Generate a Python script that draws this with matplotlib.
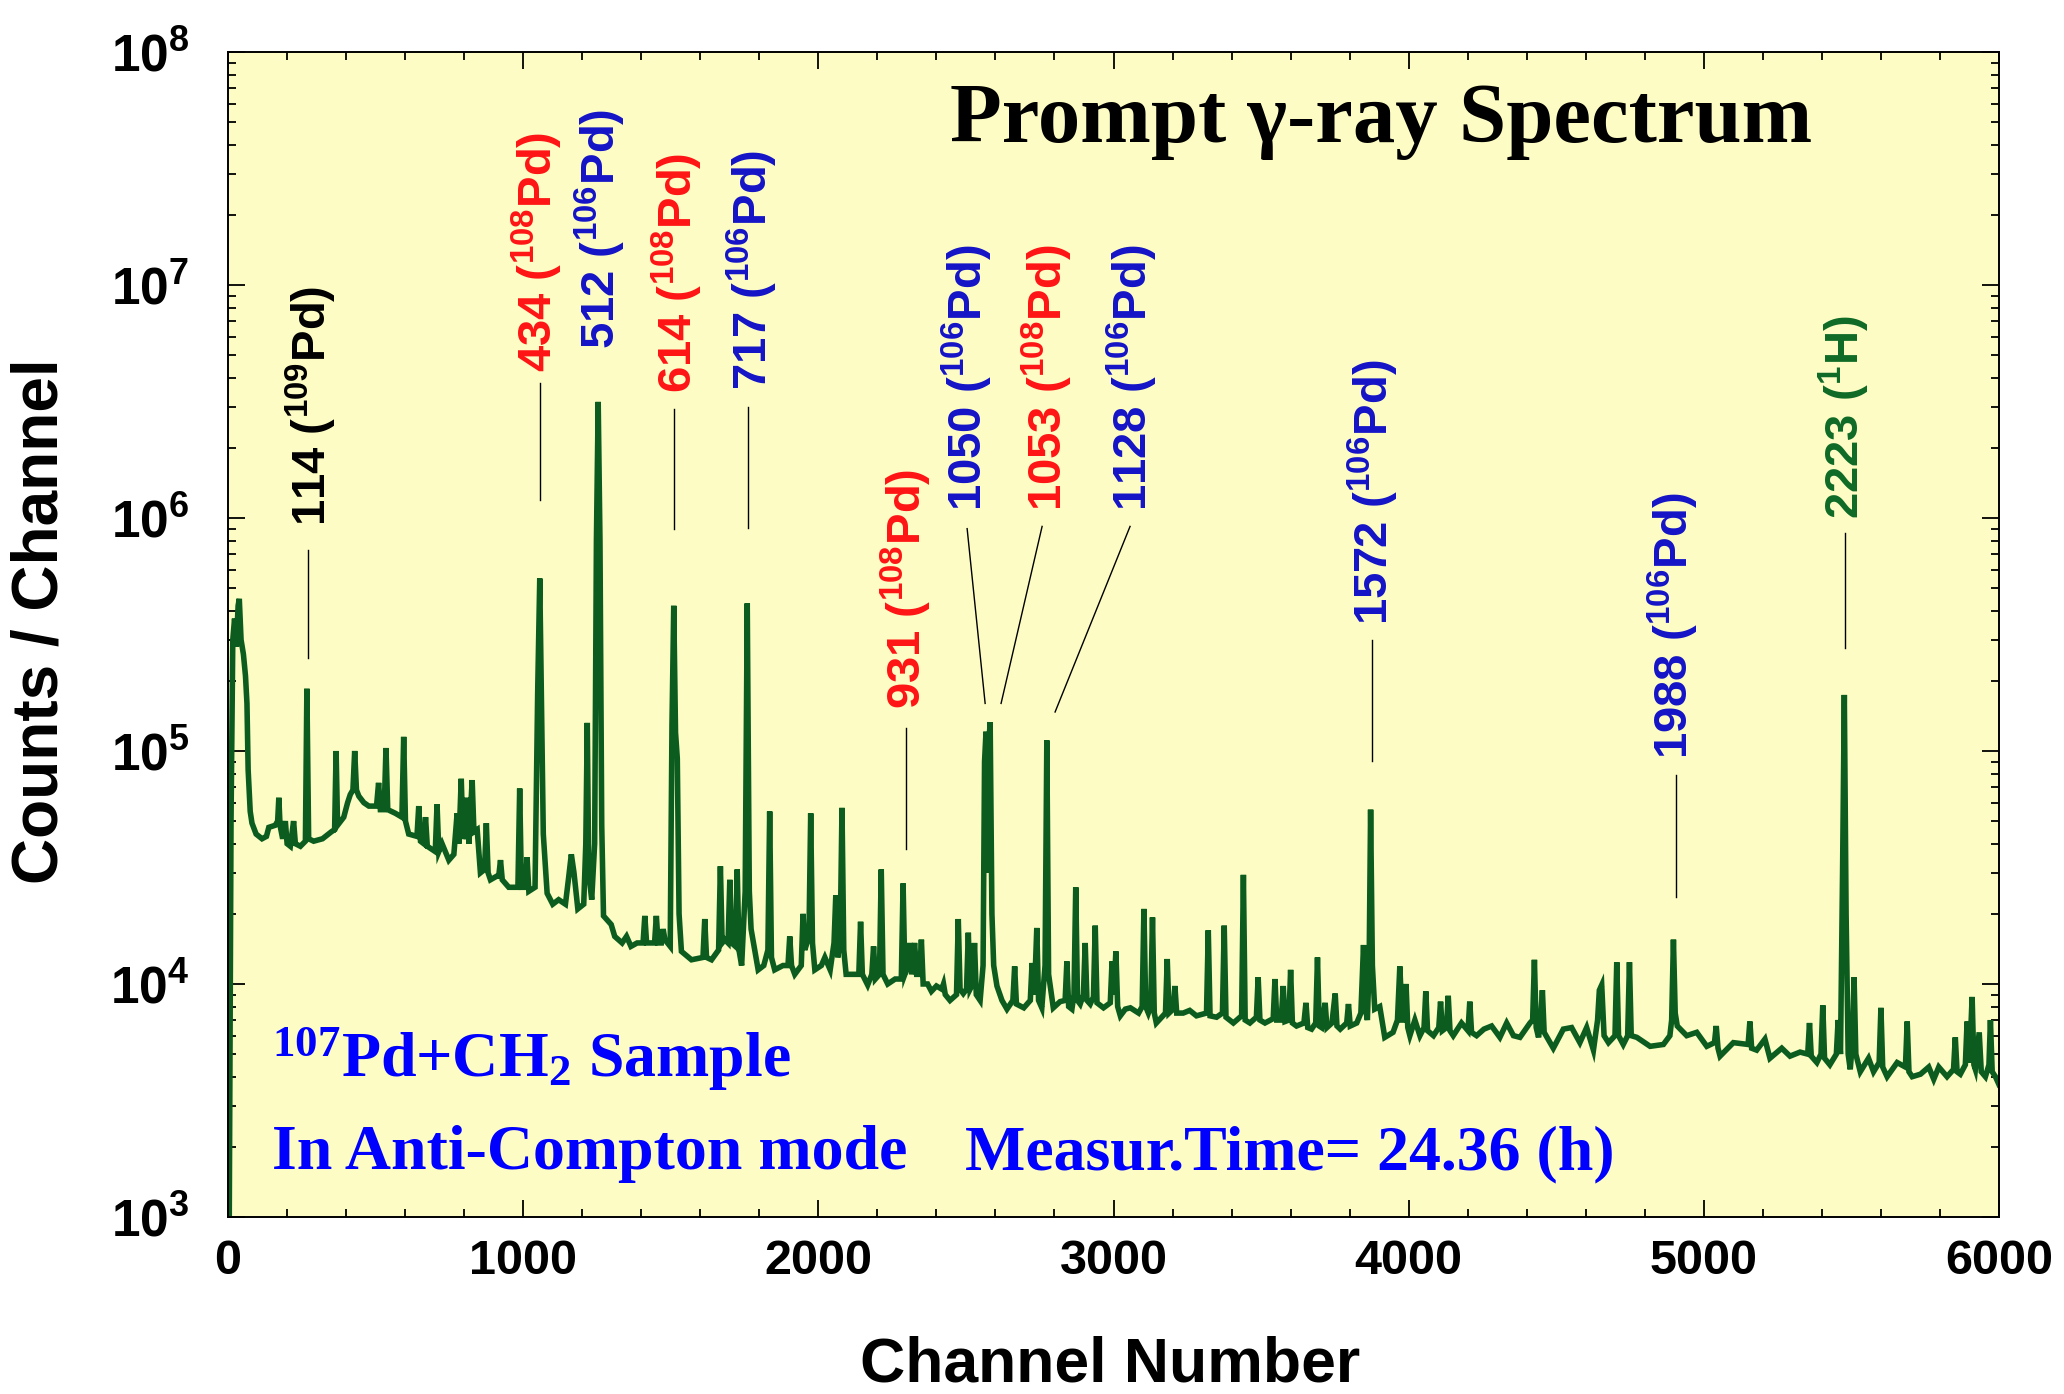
import numpy as np
import matplotlib
matplotlib.use("Agg")
from matplotlib import pyplot as plt
from matplotlib.ticker import FixedLocator, FuncFormatter, LogLocator, NullFormatter

plt.rcParams['font.family'] = ['Liberation Sans', 'DejaVu Sans']
plt.rcParams['font.weight'] = 'bold'
plt.rcParams['mathtext.fontset'] = 'custom'
plt.rcParams['mathtext.bf'] = 'Liberation Sans:bold'
plt.rcParams['mathtext.rm'] = 'Liberation Serif:bold'

# spectrum, (channel, counts / channel)
seg_low = [
    (3, 500), (10, 5.0e4), (16, 3.0e5), (22, 3.7e5), (28, 2.8e5), (34, 4.2e5), (38, 4.5e5),
    (44, 3.0e5), (52, 2.6e5), (59, 2.1e5), (64, 1.6e5), (68, 8.3e4), (75, 5.5e4), (81, 4.9e4),
    (95, 4.4e4), (115, 4.2e4), (130, 4.3e4), (138, 4.7e4), (160, 4.8e4), (168, 5.0e4),
    (172, 6.3e4), (176, 4.8e4), (185, 4.2e4), (194, 5.0e4), (200, 4.0e4), (211, 3.9e4),
    (222, 5.0e4), (228, 4.0e4), (245, 3.9e4), (262, 4.1e4), (267, 1.85e5), (273, 4.2e4),
    (290, 4.1e4), (320, 4.2e4), (350, 4.5e4), (361, 4.6e4), (366, 1.0e5), (371, 4.8e4),
    (392, 5.2e4), (405, 6.0e4), (414, 6.5e4), (423, 6.8e4), (429, 1.0e5), (435, 6.8e4),
    (443, 6.4e4), (460, 6.0e4), (477, 5.8e4), (503, 5.8e4), (510, 7.3e4), (516, 5.6e4),
    (529, 5.6e4), (535, 1.03e5), (541, 5.6e4), (567, 5.4e4), (589, 5.2e4), (595, 1.15e5),
    (601, 5.0e4), (612, 4.4e4), (640, 4.3e4), (646, 5.8e4), (652, 4.1e4), (663, 4.0e4),
    (669, 5.2e4), (675, 3.9e4), (702, 3.7e4), (708, 5.9e4), (714, 3.7e4), (725, 4.0e4),
    (748, 3.4e4), (765, 3.6e4), (776, 5.4e4), (782, 4.0e4), (790, 7.6e4), (796, 4.2e4),
    (804, 4.5e4), (810, 6.3e4), (816, 4.0e4), (827, 7.5e4), (833, 4.5e4), (844, 4.6e4),
    (855, 3.0e4), (869, 3.1e4), (875, 4.9e4), (881, 3.0e4), (889, 2.8e4), (910, 2.9e4),
    (917, 2.9e4), (923, 3.4e4), (929, 2.8e4), (951, 2.6e4), (982, 2.6e4), (988, 6.9e4),
    (994, 2.6e4), (1007, 2.6e4), (1013, 3.5e4), (1019, 2.5e4), (1040, 2.6e4), (1049, 1.8e5),
    (1056, 5.5e5), (1062, 1.5e5), (1068, 4.4e4), (1081, 2.45e4), (1100, 2.2e4), (1120, 2.3e4),
    (1143, 2.2e4), (1153, 2.8e4), (1163, 3.6e4), (1172, 3.0e4), (1185, 2.1e4),
]
seg_mid = [
    (1205, 2.2e4), (1212, 4.0e4), (1217, 1.32e5), (1222, 3.0e4), (1232, 2.3e4), (1242, 4.0e4),
    (1248, 8.0e5), (1254, 3.15e6), (1260, 8.0e5), (1266, 4.8e4), (1272, 1.96e4), (1298, 1.8e4),
    (1310, 1.6e4), (1335, 1.5e4), (1350, 1.6e4), (1365, 1.45e4), (1386, 1.5e4), (1406, 1.5e4),
    (1412, 1.96e4), (1418, 1.5e4), (1445, 1.5e4), (1451, 1.96e4), (1457, 1.5e4), (1468, 1.5e4),
    (1474, 1.72e4), (1480, 1.55e4), (1498, 1.45e4), (1504, 1.3e5), (1510, 4.2e5), (1516, 1.2e5),
    (1522, 9.3e4), (1528, 2.0e4), (1536, 1.38e4), (1570, 1.27e4), (1609, 1.3e4), (1615, 1.9e4),
    (1621, 1.3e4), (1638, 1.27e4), (1662, 1.4e4), (1668, 3.2e4), (1674, 1.5e4), (1683, 1.55e4),
    (1694, 1.5e4), (1700, 2.8e4), (1706, 1.5e4), (1719, 1.45e4), (1725, 3.1e4), (1731, 1.4e4),
    (1740, 1.2e4), (1752, 2.5e4), (1759, 4.3e5), (1766, 2.5e4), (1772, 1.72e4), (1796, 1.15e4),
    (1815, 1.2e4), (1829, 1.4e4), (1835, 5.5e4), (1841, 1.3e4), (1852, 1.15e4), (1880, 1.2e4),
    (1897, 1.2e4), (1903, 1.6e4), (1909, 1.2e4), (1920, 1.1e4), (1942, 1.2e4), (1948, 2.0e4),
    (1954, 1.4e4), (1968, 1.6e4), (1974, 5.4e4), (1980, 1.5e4), (1988, 1.15e4), (2010, 1.2e4),
    (2022, 1.3e4), (2040, 1.15e4), (2053, 1.5e4), (2059, 2.4e4), (2066, 1.3e4), (2074, 1.6e4),
    (2080, 5.7e4), (2086, 1.4e4), (2094, 1.1e4), (2120, 1.1e4), (2137, 1.1e4), (2143, 1.85e4),
    (2149, 1.1e4), (2167, 9.9e3), (2181, 1.1e4), (2187, 1.45e4), (2193, 1.05e4), (2207, 1.1e4),
    (2213, 3.1e4), (2219, 1.1e4), (2235, 1.0e4), (2260, 1.05e4), (2281, 1.05e4), (2287, 2.7e4),
    (2293, 1.1e4), (2304, 1.2e4), (2310, 1.5e4), (2316, 1.1e4), (2326, 1.5e4), (2333, 1.1e4),
    (2343, 1.1e4), (2349, 1.55e4), (2355, 1.0e4), (2370, 1.0e4), (2383, 9.3e3),
]
seg_high = [
    (2400, 9.8e3), (2418, 9.5e3), (2424, 1.0e4), (2430, 9.0e3), (2446, 8.5e3), (2468, 9.0e3),
    (2474, 1.9e4), (2480, 9.5e3), (2491, 9.1e3), (2502, 9.5e3), (2508, 1.66e4), (2514, 9.5e3),
    (2523, 1.0e4), (2529, 1.5e4), (2535, 9.0e3), (2548, 8.5e3), (2558, 1.2e4), (2563, 9.0e4),
    (2568, 1.21e5), (2574, 3.0e4), (2578, 1.1e5), (2582, 1.33e5), (2588, 2.0e4), (2594, 1.2e4),
    (2605, 9.8e3), (2622, 8.5e3), (2639, 7.8e3), (2659, 8.5e3), (2665, 1.19e4), (2671, 8.2e3),
    (2696, 7.9e3), (2718, 8.5e3), (2724, 1.23e4), (2732, 9.0e3), (2740, 1.74e4), (2746, 8.5e3),
    (2757, 7.9e3), (2768, 1.2e4), (2774, 1.11e5), (2780, 1.1e4), (2796, 7.9e3), (2819, 8.4e3),
    (2836, 8.5e3), (2842, 1.25e4), (2848, 8.0e3), (2859, 7.8e3), (2866, 9.0e3), (2872, 2.6e4),
    (2878, 8.5e3), (2887, 8.2e3), (2898, 9.0e3), (2904, 1.5e4), (2910, 8.5e3), (2921, 8.2e3),
    (2932, 8.8e3), (2938, 1.78e4), (2944, 8.3e3), (2966, 7.9e3), (2989, 8.3e3), (2995, 1.25e4),
    (3001, 9.0e3), (3008, 1.38e4), (3014, 8.0e3), (3023, 7.3e3), (3040, 7.8e3), (3057, 7.9e3),
    (3085, 7.5e3), (3097, 8.0e3), (3103, 2.1e4), (3109, 8.0e3), (3118, 7.5e3), (3126, 8.0e3),
    (3132, 1.93e4), (3138, 7.5e3), (3145, 6.8e3), (3176, 7.5e3), (3182, 1.28e4), (3188, 7.5e3),
    (3202, 7.8e3), (3208, 9.8e3), (3214, 7.5e3), (3236, 7.5e3), (3258, 7.7e3), (3281, 7.3e3),
    (3315, 7.5e3), (3321, 1.7e4), (3327, 7.3e3), (3349, 7.2e3), (3369, 7.5e3), (3375, 1.78e4),
    (3381, 7.2e3), (3406, 6.8e3), (3434, 7.3e3), (3440, 2.94e4), (3446, 7.0e3), (3462, 6.8e3),
    (3484, 7.2e3), (3490, 1.07e4), (3496, 7.0e3), (3513, 6.8e3), (3541, 7.1e3), (3547, 1.05e4),
    (3553, 7.0e3), (3568, 7.0e3), (3575, 9.8e3), (3581, 6.9e3),
]
seg_far = [
    (3594, 7.0e3), (3600, 1.15e4), (3606, 6.8e3), (3620, 6.6e3), (3645, 6.8e3), (3652, 8.3e3),
    (3658, 6.5e3), (3671, 6.4e3), (3685, 6.8e3), (3691, 1.3e4), (3697, 6.6e3), (3705, 6.5e3),
    (3717, 8.3e3), (3723, 6.5e3), (3740, 6.8e3), (3751, 9.1e3), (3757, 6.6e3), (3768, 6.4e3),
    (3790, 6.8e3), (3796, 8.2e3), (3802, 6.6e3), (3824, 6.8e3), (3838, 7.5e3), (3847, 1.47e4),
    (3853, 8.0e3), (3860, 7.0e3), (3866, 1.2e4), (3871, 5.6e4), (3877, 1.2e4), (3885, 7.8e3),
    (3902, 8.0e3), (3919, 5.9e3), (3947, 6.2e3), (3962, 7.0e3), (3970, 1.19e4), (3978, 7.0e3),
    (3985, 7.0e3), (3991, 1.0e4), (3997, 6.5e3), (4004, 6.0e3), (4021, 7.0e3), (4038, 6.0e3),
    (4052, 6.5e3), (4058, 9.3e3), (4064, 6.3e3), (4084, 6.0e3), (4102, 6.5e3), (4108, 8.4e3),
    (4114, 6.3e3), (4128, 6.5e3), (4134, 8.9e3), (4140, 6.3e3), (4151, 6.0e3), (4179, 6.8e3),
    (4201, 6.3e3), (4207, 8.4e3), (4213, 6.2e3), (4230, 6.0e3), (4255, 6.4e3), (4281, 6.6e3),
    (4309, 5.9e3), (4332, 6.8e3), (4355, 6.0e3), (4377, 5.9e3), (4411, 6.8e3), (4420, 7.0e3),
    (4426, 1.27e4), (4432, 6.5e3), (4440, 5.9e3), (4447, 7.0e3), (4453, 9.4e3), (4459, 6.2e3),
    (4490, 5.3e3), (4524, 6.4e3), (4552, 6.5e3), (4580, 5.6e3), (4603, 6.5e3), (4626, 5.2e3),
    (4640, 7.0e3), (4646, 9.4e3), (4654, 9.9e3), (4662, 6.0e3), (4677, 5.6e3), (4699, 6.0e3),
    (4705, 1.24e4), (4711, 6.0e3), (4727, 5.5e3), (4742, 6.0e3), (4748, 1.24e4), (4754, 6.0e3),
    (4773, 5.9e3),
]
seg_tail = [
    (4818, 5.4e3), (4863, 5.5e3), (4885, 6.0e3), (4891, 7.0e3), (4897, 1.55e4), (4903, 7.5e3),
    (4910, 6.6e3), (4942, 6.0e3), (4976, 6.2e3), (5010, 5.4e3), (5036, 5.6e3), (5042, 6.6e3),
    (5048, 5.3e3), (5055, 4.9e3), (5100, 5.6e3), (5150, 5.5e3), (5156, 6.9e3), (5162, 5.3e3),
    (5179, 5.2e3), (5207, 5.8e3), (5224, 4.8e3), (5264, 5.3e3), (5292, 4.9e3), (5326, 5.1e3),
    (5352, 5.0e3), (5358, 6.8e3), (5364, 4.9e3), (5383, 4.6e3), (5397, 5.0e3), (5403, 8.1e3),
    (5409, 4.8e3), (5427, 4.5e3), (5449, 5.0e3), (5455, 7.0e3), (5463, 5.0e3), (5470, 3.0e4),
    (5476, 1.74e5), (5482, 2.0e4), (5489, 5.0e3), (5496, 4.3e3), (5503, 5.5e3), (5509, 1.07e4),
    (5515, 5.0e3), (5530, 4.2e3), (5558, 4.8e3), (5575, 4.2e3), (5594, 4.6e3), (5600, 7.9e3),
    (5606, 4.4e3), (5621, 4.0e3), (5655, 4.6e3), (5683, 4.4e3), (5689, 6.9e3), (5695, 4.2e3),
    (5706, 4.0e3), (5734, 4.1e3), (5762, 4.4e3), (5779, 3.9e3), (5796, 4.4e3), (5824, 4.0e3),
    (5846, 4.3e3), (5852, 5.9e3), (5858, 4.2e3), (5869, 4.1e3), (5886, 4.5e3), (5892, 6.9e3),
    (5900, 4.6e3), (5909, 8.8e3), (5915, 4.5e3), (5920, 4.3e3), (5933, 6.2e3), (5940, 4.2e3),
    (5954, 4.0e3), (5966, 4.5e3), (5971, 7.0e3), (5977, 4.2e3), (5988, 4.0e3), (6000, 3.7e3),
]

# peak labels: energy (keV), isotope mass, element, colour
lbl_energy = ['114', '434', '512', '614', '717', '931', '1050', '1053', '1128', '1572', '1988', '2223']
lbl_mass = ['109', '108', '106', '108', '106', '108', '106', '108', '106', '106', '106', '1']
lbl_elem = ['Pd', 'Pd', 'Pd', 'Pd', 'Pd', 'Pd', 'Pd', 'Pd', 'Pd', 'Pd', 'Pd', 'H']
lbl_color = ['black', '#FF1414', '#1414C8', '#FF1414', '#1414C8', '#FF1414',
             '#1414C8', '#FF1414', '#1414C8', '#1414C8', '#1414C8', '#0E6A26']
lbl_chan = [281, 1047, 1261, 1521, 1776, 2298, 2504, 2775, 3063, 3879, 4896, 5475]
lbl_bottom = [9.2e5, 4.25e6, 5.3e6, 3.45e6, 3.55e6, 1.52e5, 1.07e6, 1.07e6, 1.07e6, 3.47e5, 9.2e4, 9.9e5]

# leader lines: (chan_top, counts_top, chan_bottom, counts_bottom)
lead_lines = [
    (271, 7.3e5, 271, 2.5e5),
    (1057, 3.8e6, 1057, 1.2e6),
    (1511, 2.95e6, 1511, 9.0e5),
    (1762, 3.0e6, 1762, 9.1e5),
    (2297, 1.25e5, 2297, 3.8e4),
    (2504, 9.0e5, 2565, 1.6e5),
    (2758, 9.2e5, 2619, 1.6e5),
    (3056, 9.2e5, 2802, 1.47e5),
    (3877, 2.98e5, 3877, 9.1e4),
    (4906, 7.9e4, 4906, 2.36e4),
    (5478, 8.6e5, 5478, 2.77e5),
]

spec = np.array(seg_low + seg_mid + seg_high + seg_far + seg_tail)

fig = plt.figure(figsize=(20.64, 13.94), dpi=100)
ax = fig.add_axes([0.1105, 0.127, 0.8580, 0.8357])
ax.set_facecolor('#FCFCC4')

ax.plot(spec[:, 0], spec[:, 1], color='#0B5C1E', linewidth=4.0, solid_joinstyle='miter')

for x0, y0, x1, y1 in lead_lines:
    ax.plot([x0, x1], [y0, y1], color='black', linewidth=1.0)

for e, m, el, c, x, y in zip(lbl_energy, lbl_mass, lbl_elem, lbl_color, lbl_chan, lbl_bottom):
    ax.text(x, y, e + ' ($\\mathbf{^{' + m + '}}$' + el + ')', rotation=90,
            ha='center', va='bottom', color=c, fontsize=34, fontweight='bold')

ax.set_yscale('log')
ax.set_xlim(0, 6000)
ax.set_ylim(1e3, 1e8)

ax.xaxis.set_major_locator(FixedLocator([0, 1000, 2000, 3000, 4000, 5000, 6000]))
ax.xaxis.set_minor_locator(FixedLocator(np.arange(0, 6001, 200)))
ax.yaxis.set_major_locator(FixedLocator([1e3, 1e4, 1e5, 1e6, 1e7, 1e8]))
ax.yaxis.set_minor_locator(LogLocator(base=10, subs=np.arange(2, 10)))
ax.yaxis.set_minor_formatter(NullFormatter())
ax.yaxis.set_major_formatter(FuncFormatter(
    lambda v, p: '$\\mathbf{10^{%d}}$' % int(round(np.log10(v)))))

ax.tick_params(which='both', direction='in', top=True, right=True, width=1.3)
ax.tick_params(which='major', length=12)
ax.tick_params(which='minor', length=6)
ax.tick_params(axis='y', which='major', labelsize=37, pad=28)
ax.tick_params(axis='x', which='major', labelsize=35, pad=16)
for lab in ax.get_xticklabels():
    lab.set_fontweight('bold')
for s in ax.spines.values():
    s.set_linewidth(1.4)

fig.text(0.0195, 0.5545, 'Counts / Channel', rotation=90, ha='center', va='center',
         fontsize=46, fontweight='bold')
fig.text(0.538, 0.009, 'Channel Number', ha='center', va='baseline',
         fontsize=45, fontweight='bold')

ax.text(0.4077, 0.923, 'Prompt \u03b3-ray Spectrum', transform=ax.transAxes,
        ha='left', va='baseline', fontsize=61, fontweight='bold',
        family=['Liberation Serif', 'DejaVu Serif'], color='black')
ax.text(0.0248, 0.120, '$\\mathrm{^{107}}$Pd+CH$\\mathrm{_{2}}$ Sample', transform=ax.transAxes,
        ha='left', va='baseline', fontsize=46, fontweight='bold',
        family=['Liberation Serif', 'DejaVu Serif'], color='#0000FF')
ax.text(0.0248, 0.041, 'In Anti-Compton mode', transform=ax.transAxes,
        ha='left', va='baseline', fontsize=46, fontweight='bold',
        family=['Liberation Serif', 'DejaVu Serif'], color='#0000FF')
ax.text(0.416, 0.041, 'Measur.Time= 24.36 (h)', transform=ax.transAxes,
        ha='left', va='baseline', fontsize=46, fontweight='bold',
        family=['Liberation Serif', 'DejaVu Serif'], color='#0000FF')

fig.savefig('out.png', dpi=100, facecolor='white')
